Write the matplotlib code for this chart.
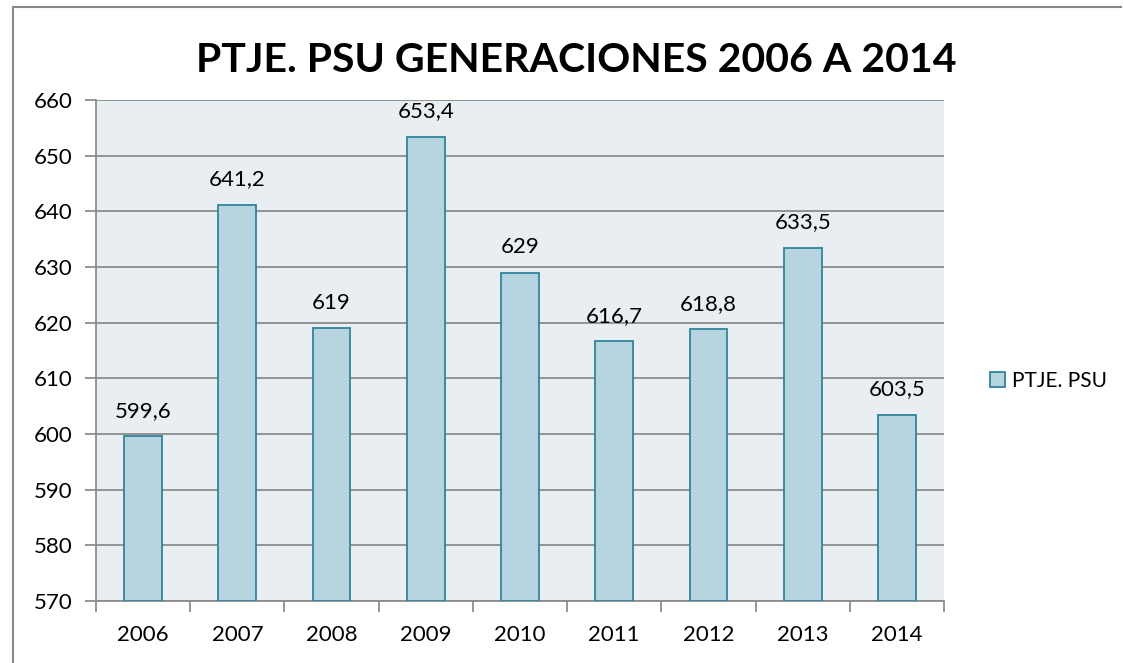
import numpy as np
import matplotlib.pyplot as plt
from matplotlib.lines import Line2D

years = ["2006", "2007", "2008", "2009", "2010", "2011", "2012", "2013", "2014"]
ptje = [599.6, 641.2, 619, 653.4, 629, 616.7, 618.8, 633.5, 603.5]
labels = ["599,6", "641,2", "619", "653,4", "629", "616,7", "618,8", "633,5", "603,5"]

plt.rcParams['font.family'] = ['Lato', 'DejaVu Sans']

fig = plt.figure(figsize=(11.23, 6.63), dpi=100)
W, H = 1123, 663
ax = fig.add_axes([96 / W, 1 - 601 / H, 848 / W, 501 / H])

# outer chart border (only left and top are visible in the image)
fig.add_artist(Line2D([13 / W, 13 / W], [0.0, 1 - 6.5 / H],
                      transform=fig.transFigure, color="#888888", linewidth=1.5))
fig.add_artist(Line2D([13 / W, 1122 / W], [1 - 6.5 / H, 1 - 6.5 / H],
                      transform=fig.transFigure, color="#888888", linewidth=1.5,
                      solid_capstyle="butt"))

x = np.arange(len(years))
ax.set_facecolor("#E8EEF2")
bars = ax.bar(x, np.array(ptje) - 570, bottom=570, width=0.4, color="#B7D5E0",
              edgecolor="#31849B", linewidth=1.3, label="PTJE. PSU", zorder=3)

for xi, v, lab in zip(x, ptje, labels):
    ax.annotate(lab, (xi, v), xytext=(0, 11), textcoords="offset points",
                ha="center", va="bottom", fontsize=16)

ax.set_xlim(-0.5, len(years) - 0.5)
ax.set_ylim(570, 660)
ax.set_yticks(np.arange(570, 661, 10))
ax.yaxis.grid(True, color="#8C8C8C", linewidth=1.3, zorder=1)
ax.set_axisbelow(True)

ax.set_xticks(x)
ax.set_xticklabels(years)
ax.set_xticks(np.arange(-0.5, len(years)), minor=True)
ax.tick_params(axis="x", which="major", length=0, pad=17, labelsize=16)
ax.tick_params(axis="x", which="minor", length=8, color="#8C8C8C", width=1.3)
ax.tick_params(axis="y", length=8, color="#8C8C8C", width=1.3, labelsize=16, pad=9)

for s in ["top", "right"]:
    ax.spines[s].set_visible(False)
for s in ["left", "bottom"]:
    ax.spines[s].set_color("#8C8C8C")
    ax.spines[s].set_linewidth(1.3)

fig.text(576 / W, 1 - 60 / H, "PTJE. PSU GENERACIONES 2006 A 2014", ha="center", va="center",
         fontsize=29.5, fontweight="bold")

leg = fig.legend(handles=[bars], loc="center left", bbox_to_anchor=(975 / W, 1 - 381 / H),
                 frameon=False, fontsize=15, handlelength=0.75, handleheight=0.75,
                 handletextpad=0.35, borderpad=0.2)

fig.savefig("out.png", dpi=100)
